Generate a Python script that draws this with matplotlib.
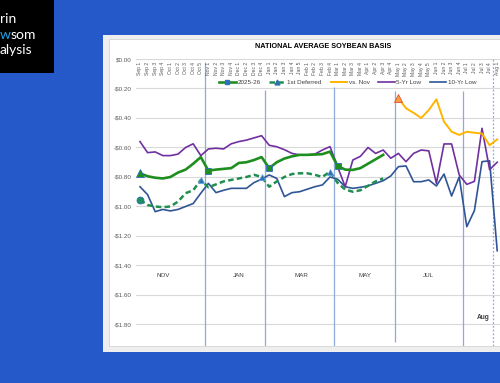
import numpy as np
import matplotlib.pyplot as plt
from matplotlib.patches import Rectangle
from matplotlib.lines import Line2D

nan = np.nan

weeks = ['Sep 1', 'Sep 2', 'Sep 3', 'Sep 4', 'Oct 1', 'Oct 2', 'Oct 3', 'Oct 4', 'Oct 5',
         'Nov 1', 'Nov 2', 'Nov 3', 'Nov 4', 'Dec 1', 'Dec 2', 'Dec 3', 'Dec 4',
         'Jan 1', 'Jan 2', 'Jan 3', 'Jan 4', 'Jan 5', 'Feb 1', 'Feb 2', 'Feb 3', 'Feb 4',
         'Mar 1', 'Mar 2', 'Mar 3', 'Mar 4', 'Apr 1', 'Apr 2', 'Apr 3', 'Apr 4',
         'May 1', 'May 2', 'May 3', 'May 4', 'May 5', 'Jun 1', 'Jun 2', 'Jun 3', 'Jun 4',
         'Jul 1', 'Jul 2', 'Jul 3', 'Jul 4', 'Aug 1']

# 2025-26 basis (weekly, $/bu)
current = [-0.775, -0.795, -0.805, -0.81, -0.80, -0.77, -0.75, -0.71, -0.665,
           -0.757, -0.75, -0.745, -0.74, -0.705, -0.70, -0.685, -0.665,
           -0.74, -0.70, -0.675, -0.66, -0.65, -0.65, -0.648, -0.645, -0.628,
           -0.725, -0.75, -0.752, -0.74, -0.71, -0.68, -0.65]
# 1st deferred
deferred = [-0.956, -0.99, -1.00, -1.005, -1.00, -0.967, -0.91, -0.89, -0.82,
            -0.87, -0.85, -0.83, -0.82, -0.81, -0.80, -0.785, -0.80,
            -0.866, -0.83, -0.80, -0.78, -0.775, -0.775, -0.785, -0.80, -0.763,
            -0.84, -0.885, -0.90, -0.89, -0.86, -0.83, -0.81]
# vs. Nov (starts May 1)
vs_nov_start = 34
vs_nov = [-0.267, -0.334, -0.365, -0.40, -0.346, -0.273, -0.425, -0.493,
          -0.515, -0.493, -0.50, -0.505, -0.585, -0.545]
low5 = [-0.56, -0.635, -0.63, -0.655, -0.655, -0.645, -0.60, -0.575, -0.655,
        -0.61, -0.605, -0.61, -0.575, -0.56, -0.55, -0.535, -0.52,
        -0.585, -0.595, -0.615, -0.64, -0.65, -0.65, -0.645, -0.617, -0.594,
        -0.73, -0.866, -0.685, -0.66, -0.60, -0.64, -0.617, -0.673,
        -0.64, -0.696, -0.64, -0.617, -0.623, -0.843, -0.576, -0.576, -0.786,
        -0.85, -0.83, -0.47, -0.75, -0.70]
low10 = [-0.866, -0.92, -1.035, -1.02, -1.03, -1.02, -1.00, -0.98, -0.91,
         -0.843, -0.906, -0.89, -0.877, -0.877, -0.877, -0.838, -0.815,
         -0.786, -0.81, -0.933, -0.906, -0.90, -0.883, -0.866, -0.854, -0.80,
         -0.815, -0.866, -0.877, -0.87, -0.86, -0.843, -0.825, -0.793,
         -0.73, -0.725, -0.832, -0.832, -0.82, -0.861, -0.78, -0.929, -0.80,
         -1.137, -1.028, -0.696, -0.69, -1.30]

# contract roll lines: (position between weeks, top value)
roll_x = [8.5, 16.5, 25.5, 33.5, 42.5]
roll_top = [-0.02, -0.21, -0.19, -0.22, -0.22]
aug_x = 46.5

months = ['NOV', 'JAN', 'MAR', 'MAY', 'JUL']
month_x = [3.0, 13.0, 21.2, 29.6, 37.9]
month_y = -1.47

GREEN = '#1e8f1e'
DGREEN = '#1f8f50'
ORANGE = '#ffb400'
PURPLE = '#7030a0'
BLUE = '#2f5597'
VLINE = '#8eaadb'

fig = plt.figure(figsize=(5, 3.83), dpi=100, facecolor='#2558c8')

# slide panel
fig.add_artist(Rectangle((103/500, 31/383), 0.9, 317/383, transform=fig.transFigure,
                         facecolor='#eeeeee', edgecolor='none', zorder=-3))
fig.add_artist(Rectangle((109/500, 37/383), 0.9, 307/383, transform=fig.transFigure,
                         facecolor='white', edgecolor='#d4d4d4', lw=0.6, zorder=-2))

# logo box
fig.add_artist(Rectangle((0, 310/383), 54/500, 73/383, transform=fig.transFigure,
                         facecolor='black', edgecolor='none', zorder=-1))
fig.text(0.0, 1 - 19/383, 'rin', color='white', fontsize=10, family='Lato',
         va='center', ha='left')
tw = fig.text(0.0, 1 - 35/383, 'w', color='#1ea0e6', fontsize=10, family='Lato',
              va='center', ha='left')
fig.canvas.draw()
wx = tw.get_window_extent().x1 / fig.bbox.width
fig.text(wx, 1 - 35/383, 'som', color='white', fontsize=10, family='Lato',
         va='center', ha='left')
fig.text(0.0, 1 - 50/383, 'alysis', color='white', fontsize=10, family='Lato',
         va='center', ha='left')

ax = fig.add_axes([136.2/500, 37/383, 52*7.6/500, 287/383])
ax.patch.set_alpha(0)
ax.set_xlim(-0.5, 51.5)
ax.set_ylim(-1.946, 0)
for s in ax.spines.values():
    s.set_visible(False)

ax.set_yticks(np.arange(-1.8, 0.01, 0.2))
ax.set_yticklabels(['$0.00' if abs(v) < 1e-9 else '-${:.2f}'.format(-v)
                    for v in np.arange(-1.8, 0.01, 0.2)],
                   fontsize=4.5, color='#595959', family='Liberation Sans')
ax.set_xticks([])
ax.tick_params(length=0, pad=3)
ax.yaxis.grid(True, color='#d9d9d9', lw=0.8)
ax.set_axisbelow(True)

x = np.arange(len(weeks))

for xx, top in zip(roll_x, roll_top):
    bot = -1.917 if xx == 33.5 else -1.946
    ax.vlines(xx, bot, top, color=VLINE, lw=0.9, zorder=1)
ax.vlines(aug_x, -1.946, 0.0, color=VLINE, lw=0.9, linestyles=(0, (1.5, 1.5)), zorder=1)

for i, w in enumerate(weeks):
    ax.text(i, -0.02, w, rotation=90, ha='center', va='top', fontsize=3.6,
            color='#595959', family='Liberation Sans')

ax.plot(x, low10, color=BLUE, lw=1.2, zorder=3)
ax.plot(x, low5, color=PURPLE, lw=1.2, zorder=3)
xn = np.arange(vs_nov_start, vs_nov_start + len(vs_nov))
ax.plot(xn, vs_nov, color=ORANGE, lw=1.4, zorder=3)
ax.plot(xn[0], vs_nov[0], marker='^', ms=6, color='#ffa040', mec='#e05030', mew=0.6, zorder=5)

xc = np.arange(len(current))
ax.plot(xc, current, color=GREEN, lw=1.9, zorder=4)
ax.plot(xc, deferred, color=DGREEN, lw=1.8, ls=(0, (2.2, 1.3)), zorder=4)

# markers at contract rolls
ax.plot(0, current[0], marker='^', ms=6, color=GREEN, mec='#2f6fc0', mew=0.6, zorder=5)
for i in [9, 17, 26]:
    ax.plot(i, current[i], marker='s', ms=5, color=GREEN, mec='#2f6fc0', mew=0.6, zorder=5)
ax.plot(0, deferred[0], marker='o', ms=5, color='#1f8f60', mec='#2f6fc0', mew=0.6, zorder=5)
for i in [8, 16, 25]:
    ax.plot(i, deferred[i], marker='^', ms=5, color='#2f6fb0', mec='#5fa0e0', mew=0.5, zorder=5)

for m, mx in zip(months, month_x):
    ax.text(mx, month_y, m, ha='center', va='center', fontsize=4.5, color='#404040',
            family='Liberation Sans')
ax.text(45.1, -1.756, 'Aug', ha='center', va='center', fontsize=4.8, color='#404040',
        family='Liberation Sans', fontweight='bold')

handles = [
    Line2D([], [], color=GREEN, lw=1.9, marker='s', ms=3, mfc='#2f6fc0', mec='#2f6fc0'),
    Line2D([], [], color=DGREEN, lw=1.8, ls=(0, (2.2, 1.3)), marker='^', ms=3.5,
           mfc='#2f6fb0', mec='#2f6fb0'),
    Line2D([], [], color=ORANGE, lw=1.4),
    Line2D([], [], color=PURPLE, lw=1.2),
    Line2D([], [], color=BLUE, lw=1.2),
]
labels = ['2025-26', '1st Deferred', 'vs. Nov', '5-Yr Low', '10-Yr Low']
leg = fig.legend(handles, labels, loc='center', bbox_to_anchor=(348/500, 1 - 82/383),
                 ncol=5, frameon=False, handlelength=2.6,
                 columnspacing=1.4, handletextpad=0.3,
                 prop={'family': 'Liberation Sans', 'size': 4.5})
for t in leg.get_texts():
    t.set_color('#404040')

fig.text(323/500, 1 - 47/383, 'NATIONAL AVERAGE SOYBEAN BASIS', ha='center', va='center',
         fontsize=5.2, fontweight='bold', color='#000000', family='Liberation Sans')

fig.savefig('out.png', dpi=100, facecolor=fig.get_facecolor())
